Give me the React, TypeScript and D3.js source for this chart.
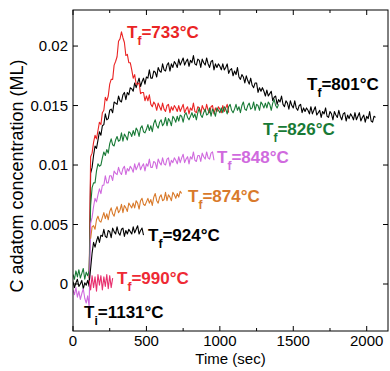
import React from "react";
import * as d3 from "d3";

// ---- data: time in s (start t0, sampling step), concentration in units of 1e-4 ML ----
const UNIT = 1e-4;
const s801 = { t0: 0, step: 10, color: "#000000", values: [
  2, -3, 1, 4, -2, 0, 3, -4, 1, -1, 3, -2,
  93, 98, 108, 116, 114, 121, 128, 125, 133, 134, 143, 138, 139, 146, 147, 144, 153, 152, 151,
  158, 154, 153, 159, 161, 155, 161, 159, 165, 164,
  162, 169, 165, 169, 173, 166, 170, 173, 168, 174,
  173, 180, 173, 173, 179, 178, 174, 182, 179, 178,
  185, 180, 179, 184, 186, 179, 185, 182, 187, 185,
  182, 189, 184, 187, 190, 184, 187, 189, 183, 188,
  186, 192, 185, 184, 189, 188, 182, 189, 186, 184,
  190, 185, 182, 187, 188, 180, 185, 182, 185, 183,
  180, 185, 180, 182, 185, 177, 180, 181, 175, 179,
  176, 182, 174, 172, 176, 174, 169, 175, 171, 168,
  173, 167, 165, 169, 169, 161, 165, 162, 165, 162,
  158, 163, 158, 160, 162, 154, 157, 158, 151, 155,
  153, 158, 151, 149, 154, 152, 147, 154, 150, 148,
  154, 148, 146, 150, 151, 144, 148, 145, 148, 146,
  143, 149, 143, 146, 149, 142, 144, 146, 140, 145,
  143, 148, 141, 140, 145, 143, 138, 145, 142, 140,
  146, 141, 138, 143, 144, 137, 142, 139, 143, 141,
  138, 144, 138, 141, 144, 137, 140, 142, 136, 141,
  139, 145, 137, 136, 141, 140,
] };
const s733 = { t0: 110, step: 10, color: "#ea2424", values: [
  5,
  107, 110, 119, 125, 122, 129, 136, 134, 144, 146, 157, 154, 158, 168, 172, 172, 184, 187, 191, 204, 206, 212,
  207, 203, 192, 193, 186, 186, 180, 173, 176, 168, 168, 169, 160, 161, 161, 154, 158, 154, 159, 151, 149, 153,
  151, 146, 152, 149, 146,
  152, 147, 145, 150, 151, 144, 149, 146, 150, 148, 145,
  150, 145, 148, 151, 144, 147, 149, 143, 148, 146, 152, 145, 144, 149, 148, 143, 150, 147, 145, 151,
  146, 144, 149, 150, 143, 148, 145, 149, 147, 144,
  150, 145, 148, 151, 144,
] };
const s826 = { t0: 0, step: 10, color: "#187a36", values: [
  8, 4, 11, 6, 12, 5, 9, 13, 4, 10, 7, 11,
  66, 81, 85, 85, 95, 101, 99, 100, 106, 111, 108, 113, 110, 118, 122, 117, 116, 121, 124,
  120, 121, 127, 120, 126, 124, 121, 128, 127, 124,
  129, 125, 131, 129, 124, 131, 133, 128, 127, 130,
  134, 129, 133, 128, 135, 138, 133, 131, 136, 138,
  133, 135, 140, 133, 139, 137, 133, 141, 139, 136,
  141, 137, 142, 141, 136, 142, 144, 140, 138, 141,
  144, 140, 143, 138, 144, 148, 142, 140, 144, 147,
  142, 143, 148, 141, 147, 145, 141, 148, 146, 144,
  148, 144, 149, 147, 143, 149, 151, 146, 144, 147,
  151, 146, 149, 144, 150, 153, 147, 146, 150, 152,
  147, 148, 153, 146, 151, 150, 146, 153, 151, 148,
  152, 148, 153, 151, 146, 152, 155, 150, 148, 151,
] };
const s848 = { t0: 0, step: 10, color: "#d06ade", values: [
  -5, -9, -3, -11, -6, -13, -8, -4, -12, -16, -10, -19,
  51, 56, 65, 72, 69, 75, 80, 76, 83, 83, 91, 85, 85, 91, 91, 87, 95, 93, 92,
  98, 94, 92, 97, 99, 92, 97, 95, 99, 97,
  94, 101, 96, 99, 102, 96, 99, 101, 95, 101,
  99, 105, 98, 98, 103, 102, 97, 105, 102, 100,
  106, 101, 100, 105, 106, 99, 104, 102, 106, 104,
  101, 107, 102, 106, 109, 102, 105, 107, 101, 107,
  105, 111, 104, 103, 108, 108, 103, 110, 107, 105,
  111, 106, 105, 110, 111, 104,
] };
const s874 = { t0: 120, step: 10, color: "#d97a2b", values: [
  38, 48, 49, 46, 54, 57, 53, 52, 56,
  60, 55, 59, 54, 61, 64, 59, 57, 62, 65,
  60, 62, 67, 60, 66, 64, 61, 68, 66, 64,
  68, 64, 70, 68, 63, 70, 72, 67, 66, 69,
  72, 68, 71, 66, 73, 76, 70, 68, 73, 75,
  70, 71, 77, 70, 75, 73, 70, 77, 75, 72,
  76, 73, 78, 76,
] };
const s924 = { t0: 110, step: 10, color: "#000000", values: [
  1, 13, 26, 35, 31, 36, 40, 35, 41, 40, 46, 40, 39, 45, 44, 39, 47, 44, 42, 48,
  43, 41, 46, 47, 40, 45, 42, 46, 44, 42, 48, 43, 46, 49, 42, 45, 47, 41,
] };
const s990 = { t0: 110, step: 10, color: "#e8306e", values: [
  3, -5, 7, -3, 6, -6, 8, -1, 7, -5, 6, -2, 8, -4, 7, -3, 5,
] };
const seriesOrder = [s801, s733, s826, s848, s874, s924, s990];

const xTicks = [0, 250, 500, 750, 1000, 1250, 1500, 1750, 2000];
const xLabeled = [0, 500, 1000, 1500, 2000];
const yTicks = [0, 0.005, 0.01, 0.015, 0.02];
const yTickLabels = ["0", "0.005", "0.01", "0.015", "0.02"];

const labels = [
  { main: "T", sub: "f", rest: "=733°C", color: "#ea2424", x: 127, y: 38 },
  { main: "T", sub: "f", rest: "=801°C", color: "#000000", x: 307, y: 90 },
  { main: "T", sub: "f", rest: "=826°C", color: "#187a36", x: 263, y: 135 },
  { main: "T", sub: "f", rest: "=848°C", color: "#d06ade", x: 217, y: 163 },
  { main: "T", sub: "f", rest: "=874°C", color: "#d97a2b", x: 188, y: 202 },
  { main: "T", sub: "f", rest: "=924°C", color: "#000000", x: 148, y: 241 },
  { main: "T", sub: "f", rest: "=990°C", color: "#ee2a35", x: 117, y: 284 },
  { main: "T", sub: "i", rest: "=1131°C", color: "#000000", x: 84, y: 318 },
];

const W = 390, H = 371;
const L = 73, R = 388, T = 10, B = 331;
const FONT = "'Liberation Sans', Arial, Helvetica, sans-serif";

export default function App() {
  const x = d3.scaleLinear().domain([0, 2145]).range([L, R]);
  const y = d3.scaleLinear().domain([-0.00395, 0.02303]).range([B, T]);
  const line = d3.line<[number, number]>().x(d => x(d[0])).y(d => y(d[1]));
  const toPts = (s: { t0: number; step: number; values: number[] }) =>
    s.values.map((v, i) => [s.t0 + i * s.step, v * UNIT] as [number, number]);

  return (
    <svg width={W} height={H} style={{ position: "absolute", left: 0, top: 0, background: "#fff" }}
      fontFamily={FONT}>
      <defs>
        <clipPath id="plot"><rect x={L} y={T} width={R - L} height={B - T} /></clipPath>
      </defs>
      <g clipPath="url(#plot)">
        {seriesOrder.map((s, i) => (
          <path key={i} d={line(toPts(s)) || ""} fill="none" stroke={s.color} strokeWidth={1.1}
            strokeLinejoin="round" />
        ))}
      </g>
      <rect x={L} y={T} width={R - L} height={B - T} fill="none" stroke="#000" strokeWidth={1} />
      {xTicks.map(t => {
        const len = xLabeled.includes(t) ? 5 : 3;
        return (
          <g key={t}>
            <line x1={x(t)} x2={x(t)} y1={B} y2={B - len} stroke="#000" />
            <line x1={x(t)} x2={x(t)} y1={T} y2={T + len} stroke="#000" />
          </g>
        );
      })}
      {yTicks.map(v => (
        <g key={v}>
          <line x1={L} x2={L + 5} y1={y(v)} y2={y(v)} stroke="#000" />
          <line x1={R} x2={R - 5} y1={y(v)} y2={y(v)} stroke="#000" />
        </g>
      ))}
      {xLabeled.map(t => (
        <text key={t} x={x(t)} y={346} fontSize={15} textAnchor="middle" fill="#000">{t}</text>
      ))}
      {yTicks.map((v, i) => (
        <text key={v} x={68} y={y(v) + 5} fontSize={15} textAnchor="end" fill="#000">{yTickLabels[i]}</text>
      ))}
      <text x={(L + R) / 2} y={364} fontSize={15} textAnchor="middle" fill="#000">Time (sec)</text>
      <text transform={`translate(23,176) rotate(-90)`} fontSize={18} textAnchor="middle" fill="#000">
        C adatom concentration (ML)
      </text>
      {labels.map((lb, i) => (
        <text key={i} x={lb.x} y={lb.y} fontSize={17} fontWeight="bold" fill={lb.color}>
          {lb.main}
          <tspan dy={7} fontSize={12}>{lb.sub}</tspan>
          <tspan dy={-7}>{lb.rest}</tspan>
        </text>
      ))}
    </svg>
  );
}
